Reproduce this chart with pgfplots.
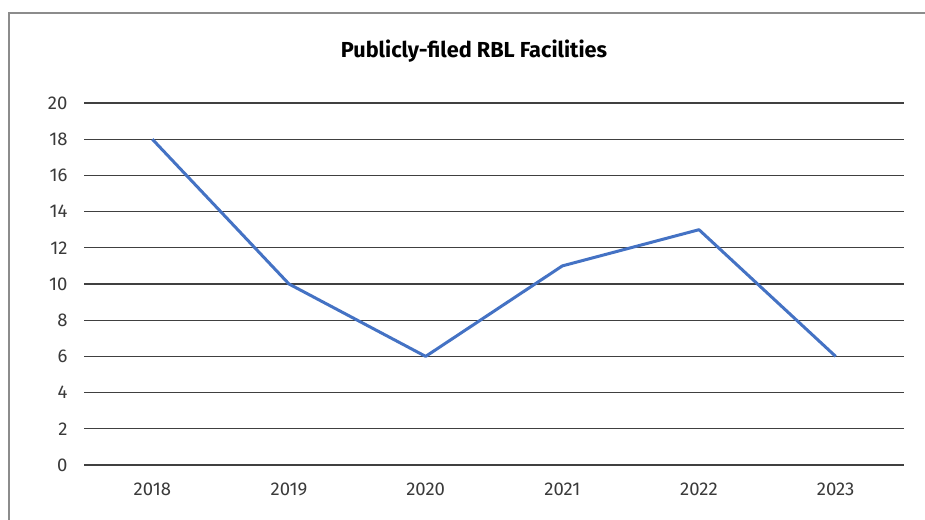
\documentclass[border=0pt]{standalone}
\usepackage{fontspec}
\setmainfont{Fira Sans}
\usepackage{pgfplots}
\pgfplotsset{compat=1.18}
\definecolor{lineblue}{HTML}{4472C4}
\definecolor{gridc}{HTML}{404040}
\definecolor{framec}{HTML}{8C8C8C}
\definecolor{textc}{HTML}{3A3A3A}
\begin{document}
\begin{tikzpicture}[x=1pt,y=1pt]
\useasboundingbox (0pt,0pt) rectangle (925pt,519pt);
\fill[white] (0pt,0pt) rectangle (925pt,519pt);
\draw[framec, line width=1.5pt] (9pt,-2pt) -- (9pt,506pt) -- (927pt,506pt);
\node[font=\fontsize{21.7}{26}\selectfont\bfseries, text=black, anchor=base] at (474pt,461pt) {Publicly-filed RBL Facilities};
\begin{axis}[
  at={(84pt,54pt)}, anchor=south west,
  scale only axis, width=820pt, height=362pt,
  xmin=-0.5, xmax=5.5, ymin=0, ymax=20,
  ytick={0,2,...,20},
  xtick={0,1,2,3,4,5},
  xticklabels={2018,2019,2020,2021,2022,2023},
  axis line style={draw=none},
  major tick length=0pt,
  ymajorgrids, grid style={gridc, line width=1.1pt},
  tick label style={font=\fontsize{18.5}{22}\selectfont, text=textc},
  /pgf/number format/assume math mode=true,
  yticklabel style={xshift=-13pt},
  xticklabel style={yshift=-14pt},
  clip=false,
]
\addplot[lineblue, line width=3pt, line join=round] coordinates {(0,18) (1,10) (2,6) (3,11) (4,13) (5,6)};
\end{axis}
\end{tikzpicture}
\end{document}
